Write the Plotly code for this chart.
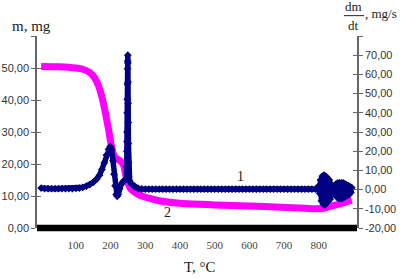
import plotly.graph_objects as go

# Mass curve (2), left axis, mg
T_mass = [0, 50, 100, 120, 140, 155, 165, 175, 185, 193, 200, 207, 213, 220, 230, 238, 245,
          252, 260, 275, 290, 310, 340, 400, 500, 600, 690, 760, 800, 820, 840, 860, 880, 895]
mass = [50.5, 50.4, 50.0, 49.6, 48.6, 46.8, 44.5, 41, 36, 31.5, 27, 23.5, 22, 21.5, 20.8, 19.5, 16,
        13.5, 12, 10.8, 10, 9.3, 8.5, 7.7, 7.2, 6.9, 6.5, 6.2, 6.0, 6.3, 7.0, 7.5, 8.2, 8.7]

# dm/dt curve (1), right axis, mg/s
T_rate = ([0, 10, 20, 30, 40, 50, 60, 70, 80, 90, 100, 110, 120,
           130, 140, 150, 160, 168, 175, 182, 188, 194, 199, 203, 207, 210, 213, 216, 219, 222,
           226, 230, 235, 240, 244, 246,
           246.5, 247, 247.3, 247.6, 248, 248.3, 248.6, 249, 249.3, 249.6, 250, 250.3, 250.6,
           251, 251.3, 251.6, 252, 255, 260, 266, 272, 280, 290, 300]
          + [310, 320, 330, 340, 350, 360, 370, 380, 390, 400, 410, 420, 430, 440, 450, 460,
             470, 480, 490, 500, 510, 520, 530, 540, 550, 560, 570, 580, 590, 600, 610, 620,
             630, 640, 650, 660, 670, 680, 690, 700, 710, 720, 730, 740, 750, 760, 770, 780, 790]
          + [797.5, 800, 802.5, 805, 807.5, 810, 812.5, 815, 817.5, 820, 822.5, 825, 827.5,
             830, 832.5, 835, 837.5, 840, 842.5, 845, 847.5, 850, 852.5, 855, 857.5, 860,
             862.5, 865, 867.5, 870, 872.5, 875, 877.5, 880, 882.5, 885, 887.5, 890, 892.5, 895])
rate = ([0.8, 0.5, 0.5, 0.5, 0.5, 0.5, 0.5, 0.5, 0.5, 0.5, 0.6, 0.8, 1.2,
         1.8, 2.6, 3.8, 5.5, 7.5, 10.5, 14, 18, 21, 22.5, 21, 15, 8, 2, -2.5, -3.5, -2.5,
         0.5, 2.5, 4, 4.8, 5.2, 6,
         12, 20, 25, 30, 40, 47, 55, 63, 67, 70, 66, 56, 45,
         35, 24, 14, 7, 4.5, 3, 2, 1.2, 0.6, 0.3, 0.2]
        + [0.2] * 49
        + [0.5, 2, -2, 5, -6, 7, -7.5, 7.5, -8, 7, -7, 6, -6, 5, -5, 3, -3, 1.5, -2,
           2, -2.5, 3, -4, 3.5, -4.5, 3.5, -4.5, 3.5, -4.5, 3.5, -4, 3, -3.5, 2.5, -3,
           2, -2.5, 1.5, -1.5, 1])

x_ticks = [100, 200, 300, 400, 500, 600, 700, 800]
left_ticks = [0, 10, 20, 30, 40, 50, 60]
right_ticks = [-20, -10, 0, 10, 20, 30, 40, 50, 60, 70, 80]


def fmt(v, top):
    return "" if v == top else f"{v:.2f}".replace(".", ",")


left_text = [fmt(v, 60) for v in left_ticks]
right_text = [fmt(v, 80) for v in right_ticks]

fig = go.Figure()
fig.add_trace(go.Scatter(x=T_mass, y=mass, mode="lines", yaxis="y",
                         line=dict(color="#FF00FF", width=7, shape="spline", smoothing=0.6),
                         showlegend=False))
fig.add_trace(go.Scatter(x=T_rate, y=rate, mode="lines+markers", yaxis="y2",
                         line=dict(color="#000080", width=5.5),
                         marker=dict(symbol="diamond", size=6, color="#000080"),
                         showlegend=False))
fig.add_trace(go.Scatter(x=[None], y=[None], yaxis="y3", showlegend=False, hoverinfo="skip"))
fig.add_trace(go.Scatter(x=[None], y=[None], yaxis="y4", showlegend=False, hoverinfo="skip"))

tick_font = dict(family="Liberation Sans, Arial", size=11, color="#333")
axis_col = "#666"

fig.update_layout(
    width=405, height=279,
    margin=dict(l=37, r=48, t=36, b=51, autoexpand=False),
    paper_bgcolor="white", plot_bgcolor="white",
    xaxis=dict(range=[-12, 910], tickvals=x_ticks, showgrid=False, zeroline=False,
               showline=False, ticks="outside", ticklen=7, tickcolor="rgba(0,0,0,0)",
               automargin=False,
               tickfont=dict(family="Liberation Serif, Times New Roman", size=11, color="#444")),
    yaxis=dict(range=[0, 60], tickvals=left_ticks, ticktext=left_text, showgrid=False,
               zeroline=False, showline=True, linecolor=axis_col, linewidth=1.5, automargin=False,
               ticks="outside", ticklen=4, tickcolor=axis_col, tickwidth=1.2, tickfont=tick_font),
    yaxis2=dict(range=[-20, 80], tickvals=right_ticks, ticktext=right_text, overlaying="y",
                side="right", anchor="x", showgrid=False, zeroline=False, showline=True,
                automargin=False,
                linecolor=axis_col, linewidth=1.5, ticks="outside", ticklen=4,
                tickcolor=axis_col, tickwidth=1.2, tickfont=tick_font),
    yaxis3=dict(range=[0, 60], tickvals=left_ticks, overlaying="y", side="left", anchor="x",
                showgrid=False, zeroline=False, showline=False, ticks="inside", ticklen=4,
                automargin=False,
                tickcolor=axis_col, tickwidth=1.2, showticklabels=False),
    yaxis4=dict(range=[-20, 80], tickvals=right_ticks, overlaying="y", side="right", anchor="x",
                showgrid=False, zeroline=False, showline=False, ticks="inside", ticklen=4,
                automargin=False,
                tickcolor=axis_col, tickwidth=1.2, showticklabels=False),
)

# thick black bottom axis bar centred on the plot's bottom edge
fig.add_shape(type="rect", xref="paper", yref="paper",
              x0=0, x1=1, y0=-0.017, y1=0.017,
              fillcolor="black", line=dict(width=0), layer="above")

serif = "Liberation Serif, Times New Roman"
ann = [
    dict(text="m, mg", x=-0.016, y=1.052, size=15, xa="center", ya="middle"),
    dict(text="T, °C", x=0.509, y=-0.203, size=15, xa="center", ya="middle"),
    dict(text="dm", x=0.99, y=1.111, size=13, xa="center", ya="bottom"),
    dict(text="dt", x=0.99, y=1.100, size=13, xa="center", ya="top"),
    dict(text=", mg/s", x=1.022, y=1.115, size=13, xa="left", ya="middle"),
]
for a in ann:
    fig.add_annotation(text=a["text"], x=a["x"], y=a["y"], xref="paper", yref="paper",
                       showarrow=False, xanchor=a["xa"], yanchor=a["ya"], borderpad=0,
                       font=dict(family=serif, size=a["size"], color="#222"))
fig.add_shape(type="line", xref="paper", yref="paper", x0=0.959, x1=1.022, y0=1.106, y1=1.106,
              line=dict(color="#222", width=1))
fig.add_annotation(text="1", x=573, y=16, xref="x", yref="y", showarrow=False,
                   font=dict(family=serif, size=14, color="#222"))
fig.add_annotation(text="2", x=363, y=5, xref="x", yref="y", showarrow=False,
                   font=dict(family=serif, size=14, color="#222"))

fig.write_html("out.html")
